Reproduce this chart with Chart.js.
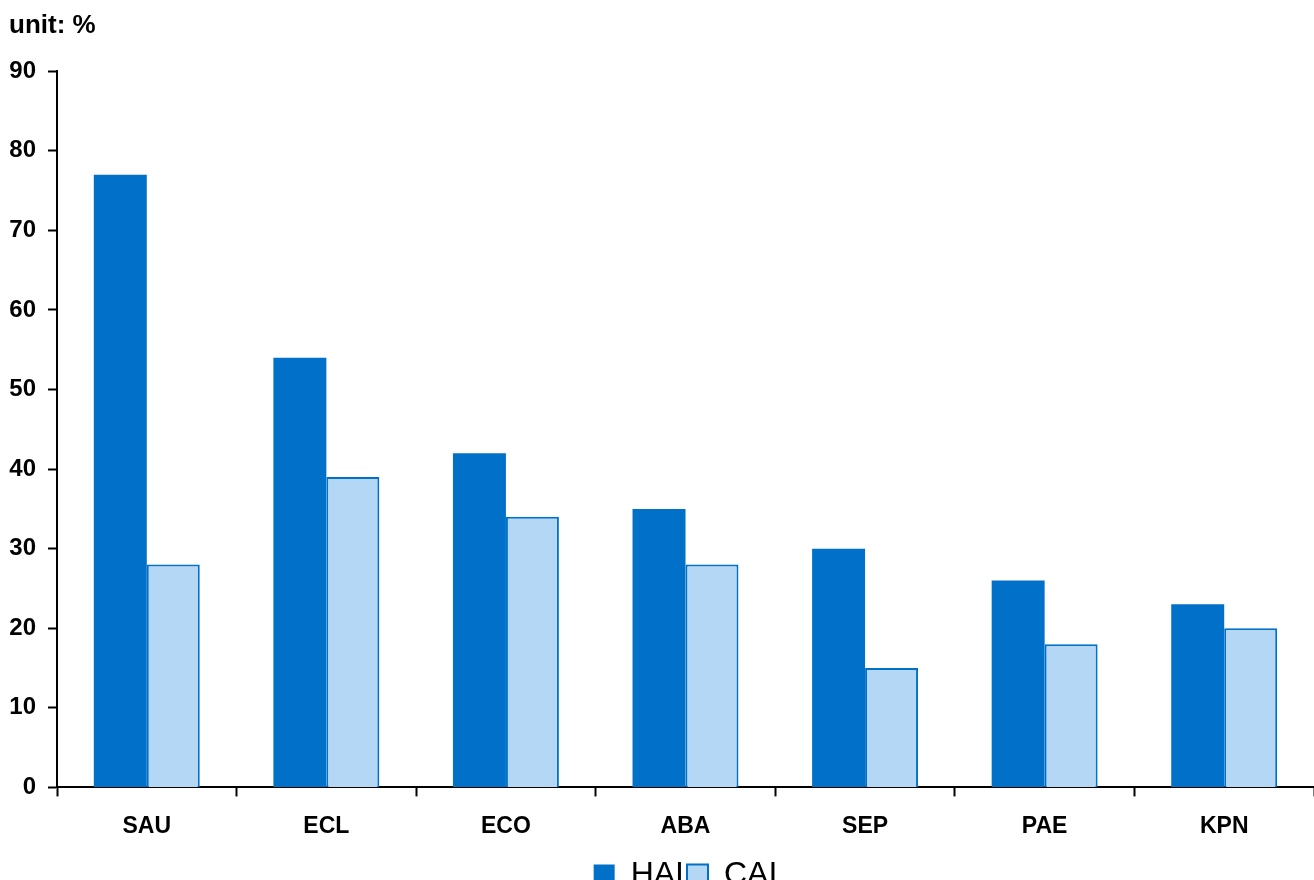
<!DOCTYPE html>
<html>
<head>
<meta charset="utf-8">
<script src="https://cdn.jsdelivr.net/npm/chart.js@4/dist/chart.umd.min.js"></script>
<style>
  html, body { margin: 0; padding: 0; background: #fff; }
  #wrap { width: 1314px; height: 880px; }
</style>
</head>
<body>
<div id="wrap"><canvas id="myChart"></canvas></div>
<script>
const categories = ['SAU', 'ECL', 'ECO', 'ABA', 'SEP', 'PAE', 'KPN'];
const hai = [77, 54, 42, 35, 30, 26, 23];
const cai = [28, 39, 34, 28, 15, 18, 20];
const yTicks = [0, 10, 20, 30, 40, 50, 60, 70, 80, 90];

const ctx = document.getElementById('myChart');

const data = {
  labels: categories,
  datasets: [{
    label: 'HAI',
    data: hai,
    backgroundColor: '#0070C8',
    borderColor: '#0070C8',
    borderWidth: 0
  }, {
    label: 'CAI',
    data: cai,
    backgroundColor: '#B3D7F5',
    borderColor: '#0070C8',
    borderWidth: 2
  }]
};

new Chart(ctx, {
  type: 'bar',
  data: data,
  options: {
    responsive: true,
    maintainAspectRatio: false,
    devicePixelRatio: 1,
    animation: false,
    categoryPercentage: 0.59,
    barPercentage: 1.0,
    layout: { padding: { left: 9, right: 0, top: 8, bottom: -21 } },
    plugins: {
      title: {
        display: true,
        text: 'unit: %',
        align: 'start',
        color: '#000',
        font: { family: 'Liberation Sans', size: 26, weight: 'bold' },
        padding: { top: 2, bottom: 30 }
      },
      legend: {
        position: 'bottom',
        fullSize: false,
        labels: {
          color: '#000',
          font: { family: 'Liberation Sans', size: 32 },
          boxWidth: 21,
          boxHeight: 21,
          padding: 3
        }
      },
      tooltip: { enabled: false }
    },
    scales: {
      x: {
        grid: { drawOnChartArea: false, tickLength: 9, color: '#000', tickWidth: 2 },
        border: { color: '#000', width: 2 },
        ticks: {
          color: '#000',
          padding: 16,
          font: { family: 'Liberation Sans', size: 23, weight: 'bold' }
        }
      },
      y: {
        min: 0,
        max: 90,
        afterBuildTicks: (axis) => { axis.ticks = yTicks.map(v => ({ value: v })); },
        afterFit: (axis) => { axis.width = 48; },
        grid: { drawOnChartArea: false, tickLength: 9, color: '#000', tickWidth: 2 },
        border: { color: '#000', width: 2 },
        ticks: {
          color: '#000',
          padding: 12,
          font: { family: 'Liberation Sans', size: 24, weight: 'bold' }
        }
      }
    }
  }
});
</script>
</body>
</html>
